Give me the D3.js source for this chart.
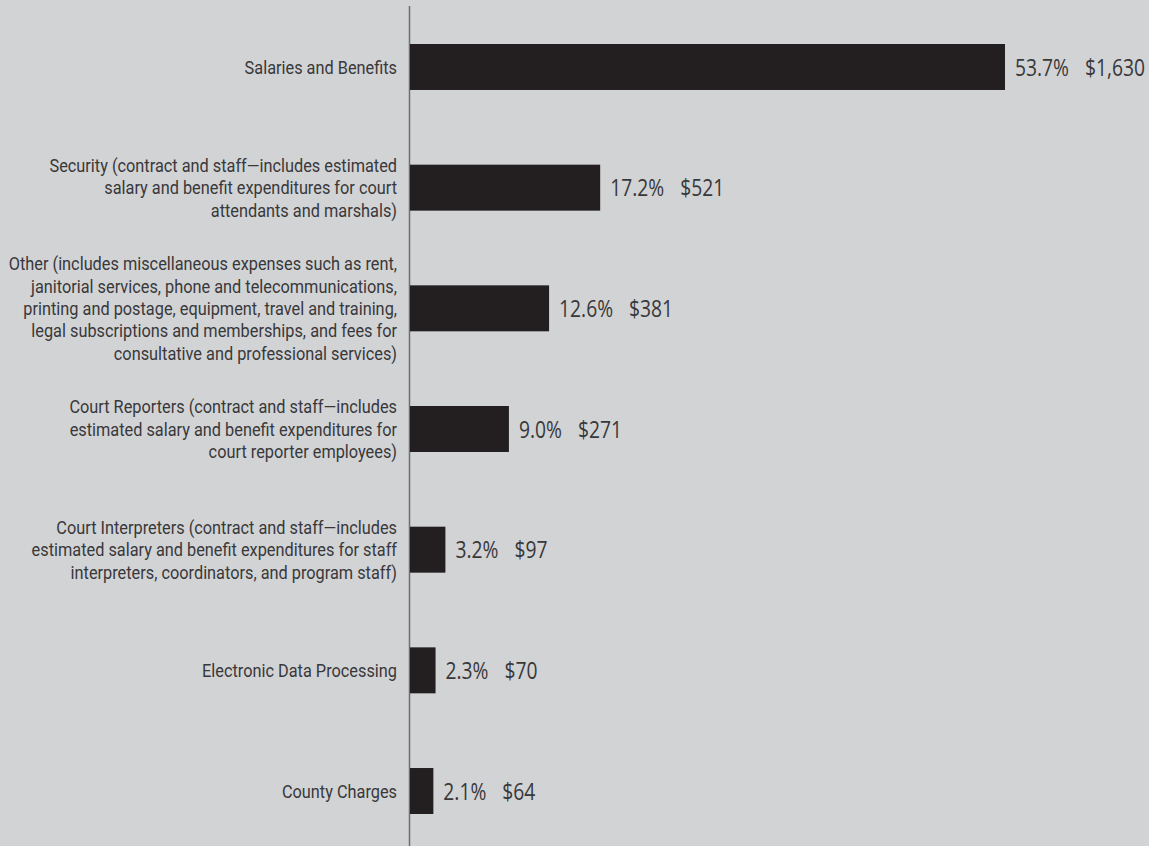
<!DOCTYPE html>
<html>
<head>
<meta charset="utf-8">
<script src="https://cdn.jsdelivr.net/npm/d3@7"></script>
<style>
  html, body { margin: 0; padding: 0; background: #d2d3d5; }
  svg { display: block; }
</style>
</head>
<body>
<svg id="chart" width="1149" height="846"></svg>
<script>
const categories = [
  "Salaries and Benefits",
  "Security",
  "Other",
  "Court Reporters",
  "Court Interpreters",
  "Electronic Data Processing",
  "County Charges"
];
const labelLines = [
  ["Salaries and Benefits"],
  ["Security (contract and staff\u2014includes estimated",
   "salary and benefit expenditures for court",
   "attendants and marshals)"],
  ["Other (includes miscellaneous expenses such as rent,",
   "janitorial services, phone and telecommunications,",
   "printing and postage, equipment, travel and training,",
   "legal subscriptions and memberships, and fees for",
   "consultative and professional services)"],
  ["Court Reporters (contract and staff\u2014includes",
   "estimated salary and benefit expenditures for",
   "court reporter employees)"],
  ["Court Interpreters (contract and staff\u2014includes",
   "estimated salary and benefit expenditures for staff",
   "interpreters, coordinators, and program staff)"],
  ["Electronic Data Processing"],
  ["County Charges"]
];
const amounts = [1630, 521, 381, 271, 97, 70, 64];
const percents = ["53.7%", "17.2%", "12.6%", "9.0%", "3.2%", "2.3%", "2.1%"];
const amountLabels = ["$1,630", "$521", "$381", "$271", "$97", "$70", "$64"];

const data = categories.map((c, i) => ({
  cat: c, lines: labelLines[i], value: amounts[i], pct: percents[i], amt: amountLabels[i]
}));

const svg = d3.select("#chart");
const LAB_FONT = "Roboto, 'Open Sans', sans-serif";
const VAL_FONT = "'Open Sans', 'Noto Sans', sans-serif";
const TEXT_COLOR = "#38383a";

const x = d3.scaleLinear().domain([0, 1630]).range([410, 1005]);
const y = d3.scaleBand().domain(categories).range([44, 814]).paddingInner(0.619).paddingOuter(0);

function measure(str, font, size) {
  const t = svg.append("text").attr("font-family", font).attr("font-size", size)
    .attr("xml:space", "preserve").text(str);
  const w = t.node().getComputedTextLength();
  t.remove();
  return w;
}
const LAB_SIZE = 18.8;
const VAL_SIZE = 24;
const labK = 388 / measure(labelLines[2][0], LAB_FONT, LAB_SIZE);
const valK = 114 / (measure(percents[0], VAL_FONT, VAL_SIZE) + measure(amountLabels[0], VAL_FONT, VAL_SIZE));
const gapLocal = 16 / valK;

// axis line
svg.append("line")
  .attr("x1", 409.5).attr("x2", 409.5)
  .attr("y1", 6).attr("y2", 846)
  .attr("stroke", "#6d6e70").attr("stroke-width", 1.5);

const g = svg.append("g");

g.selectAll("rect.bar").data(data).join("rect")
  .attr("class", "bar")
  .attr("x", x(0))
  .attr("y", d => y(d.cat))
  .attr("width", d => x(d.value) - x(0))
  .attr("height", y.bandwidth())
  .attr("fill", "#231f20");

// value labels
const vt = g.selectAll("g.val").data(data).join("g")
  .attr("class", "val")
  .attr("transform", d => `translate(${x(d.value) + 10},${y(d.cat) + y.bandwidth() / 2}) scale(${valK},1)`)
  .append("text")
  .attr("dy", "0.36em")
  .attr("font-family", VAL_FONT)
  .attr("font-size", VAL_SIZE)
  .attr("fill", TEXT_COLOR);
vt.append("tspan").text(d => d.pct);
vt.append("tspan").attr("dx", gapLocal).text(d => d.amt);

// category labels
const lh = 22.3;
g.selectAll("g.lab").data(data).join("g")
  .attr("class", "lab")
  .attr("transform", d => `translate(397,${y(d.cat) + y.bandwidth() / 2}) scale(${labK},1)`)
  .append("text")
  .attr("text-anchor", "end")
  .attr("font-family", LAB_FONT)
  .attr("font-size", LAB_SIZE)
  .attr("fill", TEXT_COLOR)
  .each(function(d) {
    const t = d3.select(this);
    const n = d.lines.length;
    d.lines.forEach((ln, i) => {
      t.append("tspan")
        .attr("x", 0)
        .attr("y", (i - (n - 1) / 2) * lh)
        .attr("dy", "0.36em")
        .text(ln);
    });
  });
</script>
</body>
</html>
